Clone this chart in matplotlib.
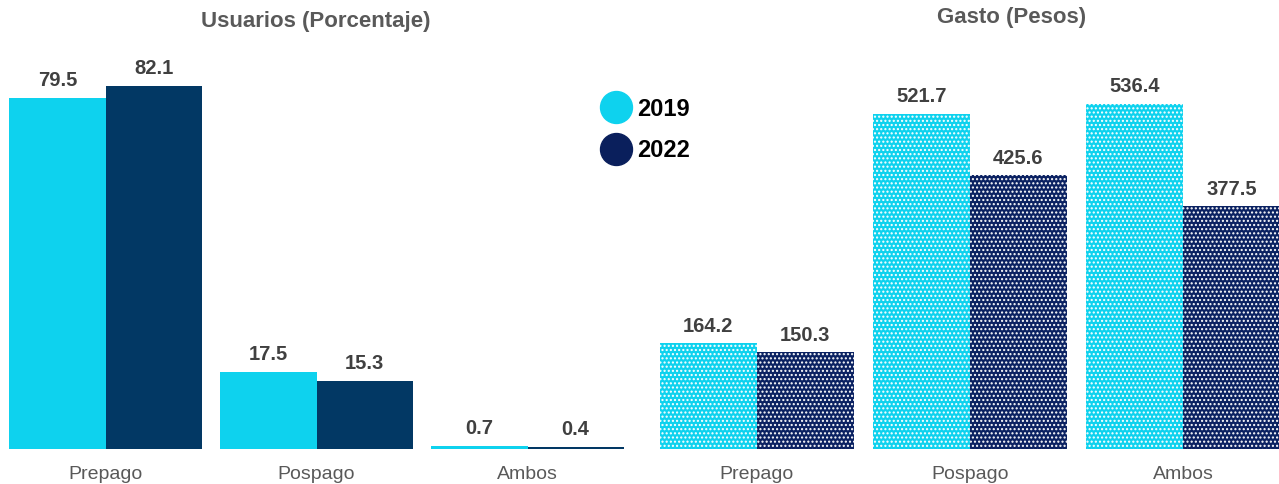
import numpy as np
import matplotlib
matplotlib.use("Agg")
import matplotlib.pyplot as plt
from matplotlib.lines import Line2D

plt.rcParams['font.family'] = ['Liberation Sans', 'DejaVu Sans']
plt.rcParams['hatch.linewidth'] = 1.0

categorias = ["Prepago", "Pospago", "Ambos"]
years = ["2019", "2022"]
usuarios_2019 = [79.5, 17.5, 0.7]
usuarios_2022 = [82.1, 15.3, 0.4]
gasto_2019 = [164.2, 521.7, 536.4]
gasto_2022 = [150.3, 425.6, 377.5]

cyan = "#0ED2EE"
navy_left = "#023864"
navy_right = "#0B2262"
gray_txt = "#595959"
val_txt = "#404040"

fig = plt.figure(figsize=(12.79, 4.84), dpi=100)
ax1 = fig.add_axes([0.0, 0.0723, 633 / 1279, 0.845])
ax2 = fig.add_axes([650 / 1279, 0.0723, 629 / 1279, 0.845])

x = np.arange(len(categorias))
w = 0.455

# left chart: solid bars
b1 = ax1.bar(x - w / 2, usuarios_2019, w, color=cyan)
b2 = ax1.bar(x + w / 2, usuarios_2022, w, color=navy_left)
for bars, vals in [(b1, usuarios_2019), (b2, usuarios_2022)]:
    for r, v in zip(bars, vals):
        ax1.text(r.get_x() + r.get_width() / 2, v + 1.8, f"{v:.1f}", ha="center", va="bottom",
                 fontsize=14.5, fontweight="bold", color=val_txt)
ax1.set_xlim(-0.5, 2.5)
ax1.set_ylim(0, 92.5)

# right chart: dotted bars
c1 = ax2.bar(x - w / 2, gasto_2019, w, color=cyan, edgecolor="white", linewidth=0, hatch="....")
c2 = ax2.bar(x + w / 2, gasto_2022, w, color=navy_right, edgecolor="white", linewidth=0, hatch="....")
for bars, vals in [(c1, gasto_2019), (c2, gasto_2022)]:
    for r, v in zip(bars, vals):
        ax2.text(r.get_x() + r.get_width() / 2, v + 12, f"{v:.1f}", ha="center", va="bottom",
                 fontsize=14.5, fontweight="bold", color=val_txt)
ax2.set_xlim(-0.5, 2.45)
ax2.set_ylim(0, 636)

for ax in (ax1, ax2):
    for s in ax.spines.values():
        s.set_visible(False)
    ax.set_yticks([])
    ax.set_xticks(x)
    ax.set_xticklabels(categorias, fontsize=14, color=gray_txt)
    ax.tick_params(axis="x", length=0, pad=12)

fig.text(316 / 1279, 1 - 22 / 484, "Usuarios (Porcentaje)", ha="center", va="center",
         fontsize=16, fontweight="bold", color=gray_txt)
fig.text(1012 / 1279, 1 - 18 / 484, "Gasto (Pesos)", ha="center", va="center",
         fontsize=16, fontweight="bold", color=gray_txt)

handles = [Line2D([], [], marker="o", linestyle="", markersize=23, color=cyan),
           Line2D([], [], marker="o", linestyle="", markersize=23, color="#0A1F5C")]
fig.legend(handles, years, loc="center", bbox_to_anchor=(646 / 1279, 1 - 130 / 484),
           frameon=False, prop={"size": 17, "weight": "bold"}, labelspacing=0.8,
           handletextpad=0.3, handlelength=1.2)

fig.savefig("out.png", dpi=100)
